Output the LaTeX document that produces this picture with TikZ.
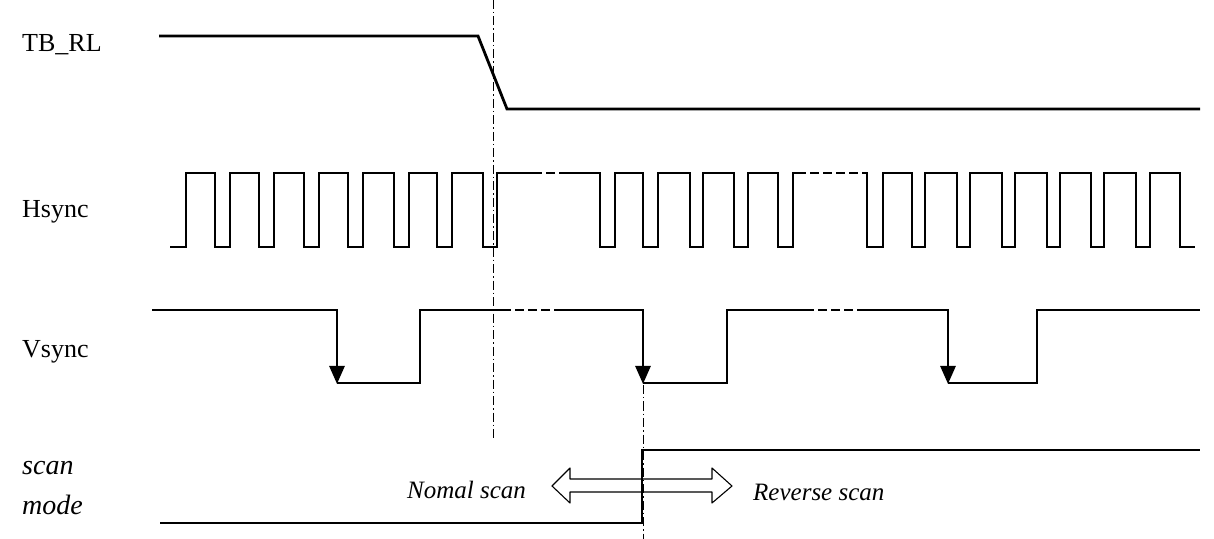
\documentclass[tikz,border=0pt]{standalone}
\usepackage{fontspec}
\setmainfont{Liberation Serif}
\usetikzlibrary{arrows.meta}
\tikzset{
  sig/.style={line width=2.8bp, line join=miter, line cap=butt},
  sigdash/.style={sig, dash pattern=on 9bp off 4bp},
  sigarrow/.style={sig, -{Triangle[length=18bp,width=15bp]}},
  guide/.style={line width=1bp, dash pattern=on 9bp off 3bp on 1.5bp off 3bp},
  lab/.style={anchor=west, inner sep=0pt, font=\fontsize{26bp}{28bp}\selectfont},
  ilab/.style={anchor=west, inner sep=0pt, font=\fontsize{25bp}{28bp}\selectfont\itshape},
  hollow/.style={line width=1.1bp, line join=round}
}
\begin{document}
\begin{tikzpicture}[x=1bp,y=-1bp]
\useasboundingbox (0,0) rectangle (1214,539);

% labels
\node[lab] (tbrl) at (22,45) {TB\_RL};
\node[lab] (hs) at (22,212) {Hsync};
\node[lab] (vs) at (22,352) {Vsync};
\node[ilab, font=\fontsize{28bp}{30bp}\selectfont\itshape] (scan) at (22,468) {scan};
\node[ilab, font=\fontsize{28bp}{30bp}\selectfont\itshape] (mode) at (22,505) {mode};
\node[ilab] (normal) at (407,490) {Nomal scan};
\node[ilab] (reverse) at (753,492) {Reverse scan};

% guide lines
\draw[guide] (493,0) -- (493,440);
\draw[guide] (643,385) -- (643,539);

% TB_RL
\draw[sig] (159,36) -- (478,36) -- (507,109) -- (1200,109);

% Hsync
\draw[sig] (170,247)--(186,247)--(186,173)--(215,173)--(215,247)--(230,247)--(230,173)--(259,173)--(259,247)--(274,247)--(274,173)--(304,173)--(304,247)--(319,247)--(319,173)--(348,173)--(348,247)--(363,247)--(363,173)--(394,173)--(394,247)--(409,247)--(409,173)--(437,173)--(437,247)--(452,247)--(452,173)--(483,173)--(483,247)--(497,247)--(497,173)--(533,173);
\draw[sigdash] (533,173) -- (565,173);
\draw[sig] (565,173)--(600,173)--(600,247)--(615,247)--(615,173)--(643,173)--(643,247)--(658,247)--(658,173)--(690,173)--(690,247)--(703,247)--(703,173)--(734,173)--(734,247)--(748,247)--(748,173)--(778,173)--(778,247)--(793,247)--(793,173)--(797,173);
\draw[sigdash] (797,173) -- (862,173);
\draw[sig] (862,173)--(867,173)--(867,247)--(883,247)--(883,173)--(912,173)--(912,247)--(925,247)--(925,173)--(957,173)--(957,247)--(970,247)--(970,173)--(1002,173)--(1002,247)--(1015,247)--(1015,173)--(1047,173)--(1047,247)--(1060,247)--(1060,173)--(1091,173)--(1091,247)--(1104,247)--(1104,173)--(1136,173)--(1136,247)--(1150,247)--(1150,173)--(1180,173)--(1180,247)--(1195,247);

% Vsync
\draw[sigarrow] (152,310) -- (337,310) -- (337,384);
\draw[sig] (337,383) -- (420,383) -- (420,310) -- (502,310);
\draw[sigdash] (502,310) -- (555,310);
\draw[sigarrow] (555,310) -- (643,310) -- (643,384);
\draw[sig] (643,383) -- (727,383) -- (727,310) -- (805,310);
\draw[sigdash] (805,310) -- (863,310);
\draw[sigarrow] (863,310) -- (948,310) -- (948,384);
\draw[sig] (948,383) -- (1037,383) -- (1037,310) -- (1200,310);

% scan mode
\draw[sig] (160,523) -- (642,523) -- (642,450) -- (1200,450);

% hollow double arrow
\draw[hollow] (552,486) -- (570,468) -- (570,479) -- (712,479) -- (712,468) -- (732,486)
  -- (712,503) -- (712,492) -- (570,492) -- (570,503) -- cycle;
\end{tikzpicture}
\end{document}
